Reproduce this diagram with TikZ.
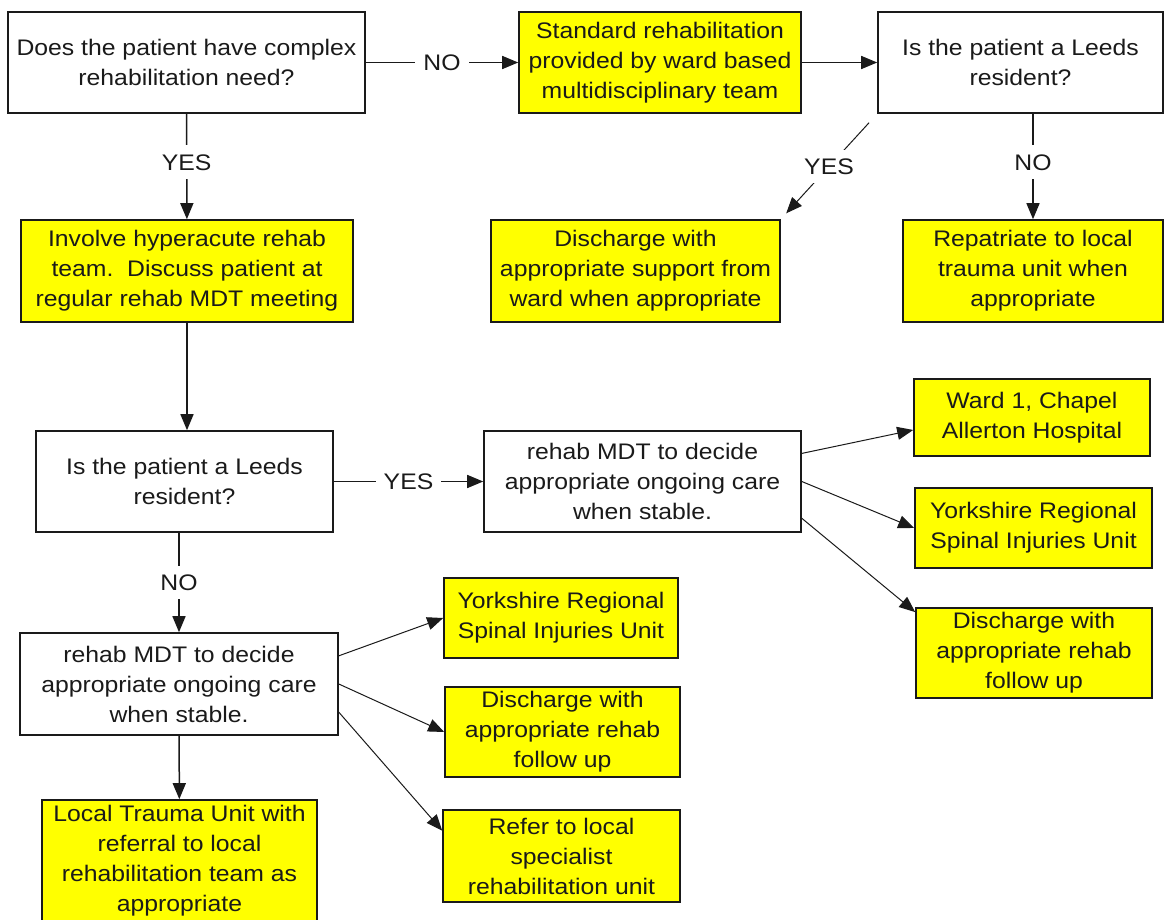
\documentclass[tikz,border=0pt]{standalone}
\usepackage{fontspec}
\setmainfont{Liberation Sans}[FakeStretch=1.1]
\usetikzlibrary{arrows.meta}
\definecolor{boxyellow}{HTML}{FFFF00}
\definecolor{edge}{HTML}{1A1A1A}
\tikzset{
  qbox/.style={draw=edge, line width=1.6pt, fill=white, align=center, inner sep=0pt,
    text=edge, font=\fontsize{22.5}{30}\selectfont},
  ybox/.style={qbox, fill=boxyellow},
  lbl/.style={fill=white, inner xsep=8pt, inner ysep=9pt, text=edge,
    font=\fontsize{22.5}{30}\selectfont},
  flow/.style={draw=edge, line width=1.5pt, -{Triangle[length=16pt,width=13pt]}},
  branch/.style={draw=edge, line width=1pt, -{Triangle[length=16pt,width=13pt]}}
}
\begin{document}
\begin{tikzpicture}[x=1pt,y=-1pt]
  \fill[white] (0,0) rectangle (1164,920);
  \useasboundingbox (0,0) rectangle (1164,920);
  \clip (0,0) rectangle (1164,920);

  \node[qbox, minimum width=357pt, minimum height=101pt] (q1) at (186.5,62.5) {Does the patient have complex\\rehabilitation need?};
  \node[ybox, minimum width=282pt, minimum height=101pt] (s1) at (660,62.5) {Standard rehabilitation\\provided by ward based\\multidisciplinary team};
  \node[qbox, minimum width=285pt, minimum height=101pt] (q2) at (1020.5,62.5) {Is the patient a Leeds\\resident?};
  \draw[flow] (q1) -- node[lbl] {NO} (s1);
  \draw[flow] (s1) -- (q2);

  \node[ybox, minimum width=332pt, minimum height=102pt] (s2a) at (187,271) {Involve hyperacute rehab\\team.\ \ Discuss patient at\\regular rehab MDT meeting};
  \node[ybox, minimum width=289pt, minimum height=102pt] (s2b) at (635.5,271) {Discharge with\\appropriate support from\\ward when appropriate};
  \node[ybox, minimum width=260pt, minimum height=102pt] (s2c) at (1033,271) {Repatriate to local\\trauma unit when\\appropriate};
  \draw[flow] (q1) -- node[lbl, pos=0.46] {YES} (s2a);
  \draw[branch, shorten <=12pt, shorten >=8pt] (q2.south west) -- node[lbl] {YES} (s2b.north east);
  \draw[flow] (s2c.north |- q2.south) -- node[lbl, pos=0.46] {NO} (s2c);

  \node[qbox, minimum width=297pt, minimum height=101pt] (q3) at (184.5,481.5) {Is the patient a Leeds\\resident?};
  \node[qbox, minimum width=317pt, minimum height=101pt] (r3) at (642.5,481.5) {rehab MDT to decide\\appropriate ongoing care\\when stable.};
  \draw[flow] (s2a.south) -- (s2a.south |- q3.north);
  \draw[flow] (q3) -- node[lbl] {YES} (r3);

  \node[ybox, minimum width=236pt, minimum height=77pt] (s4a) at (1032,417.5) {Ward 1, Chapel\\Allerton Hospital};
  \node[ybox, minimum width=237pt, minimum height=80pt] (s4b) at (1033.5,528) {Yorkshire Regional\\Spinal Injuries Unit};
  \node[ybox, minimum width=236pt, minimum height=90pt] (s4c) at (1034,653) {Discharge with\\appropriate rehab\\follow up};
  \draw[branch] (r3.10) -- (s4a.186);
  \draw[branch] (r3.east) -- (s4b.west);
  \draw[branch] (r3.-13) -- (s4c.161);

  \node[qbox, minimum width=318pt, minimum height=102pt] (r5) at (179,684) {rehab MDT to decide\\appropriate ongoing care\\when stable.};
  \draw[flow] (r5.north |- q3.south) -- node[lbl] {NO} (r5);

  \node[ybox, minimum width=234pt, minimum height=80pt] (s5a) at (561,618) {Yorkshire Regional\\Spinal Injuries Unit};
  \node[ybox, minimum width=235pt, minimum height=90pt] (s5b) at (562.5,732) {Discharge with\\appropriate rehab\\follow up};
  \node[ybox, minimum width=237pt, minimum height=92pt] (s5c) at (561.5,856) {Refer to local\\specialist\\rehabilitation unit};
  \draw[branch] (r5.10) -- (s5a.west);
  \draw[branch] (r5.east) -- (s5b.west);
  \draw[branch] (r5.-10) -- (s5c.168);

  \node[ybox, minimum width=275pt, minimum height=122pt] (s6) at (179.5,861) {Local Trauma Unit with\\referral to local\\rehabilitation team as\\appropriate};
  \draw[flow] (r5) -- (s6);
\end{tikzpicture}
\end{document}
